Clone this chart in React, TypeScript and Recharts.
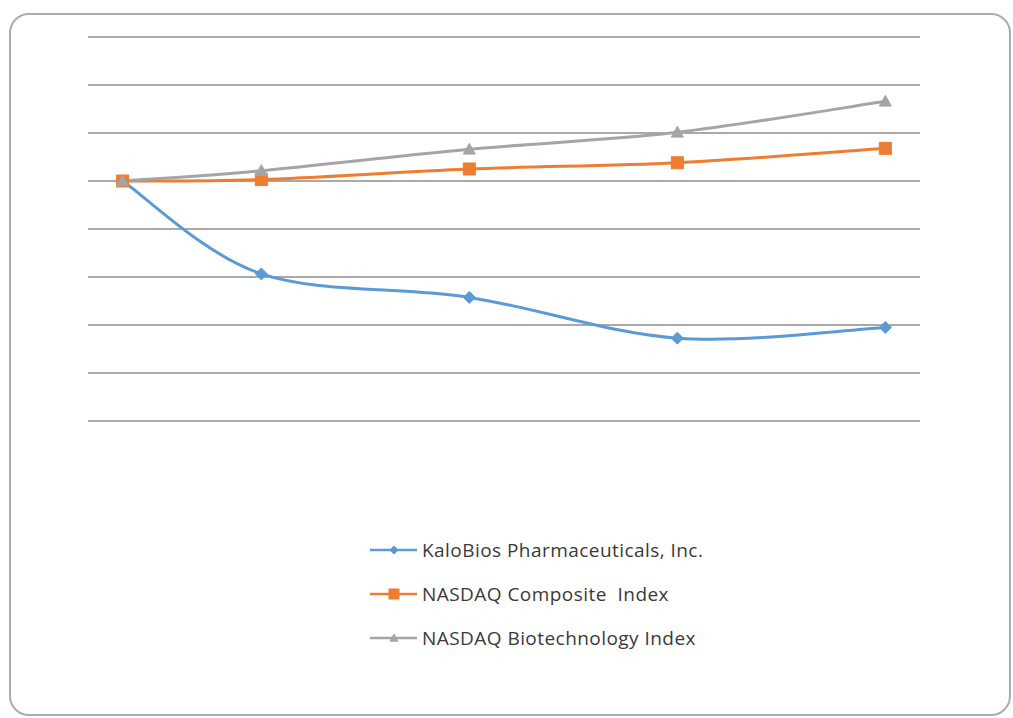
import React from "react";
import { LineChart, Line, XAxis, YAxis, CartesianGrid, Legend } from "recharts";

const dates = ["2013-01-31", "2013-03-31", "2013-06-30", "2013-09-30", "2013-12-31"];
const kalobios = [100, 61.3, 51.5, 34.5, 39.0];
const nasdaqComposite = [100, 100.6, 105.0, 107.6, 113.6];
const nasdaqBiotech = [100, 104.3, 113.2, 120.3, 133.2];
const yTicks = [0, 20, 40, 60, 80, 100, 120, 140, 160];

const seriesNames = [
  "KaloBios Pharmaceuticals, Inc.",
  "NASDAQ Composite  Index",
  "NASDAQ Biotechnology Index",
];
const seriesColors = ["#5B9BD5", "#ED7D31", "#A5A5A5"];
const seriesKeys = ["kalo", "comp", "bio"];
const seriesMarkers = ["diamond", "square", "triangle"];

const monthIndex = (d: string) => {
  const [y, m] = d.split("-").map(Number);
  const [y0, m0] = dates[0].split("-").map(Number);
  return (y - y0) * 12 + (m - m0);
};

const data = dates.map((d, i) => ({
  x: monthIndex(d),
  kalo: kalobios[i],
  comp: nasdaqComposite[i],
  bio: nasdaqBiotech[i],
}));

// Excel-like smoothing (Catmull-Rom style bezier)
const smoothCurve: any = (context: any) => {
  let pts: number[][] = [];
  return {
    areaStart() {},
    areaEnd() {},
    lineStart() {
      pts = [];
    },
    point(x: number, y: number) {
      pts.push([+x, +y]);
    },
    lineEnd() {
      const n = pts.length;
      if (!n) return;
      context.moveTo(pts[0][0], pts[0][1]);
      for (let i = 0; i < n - 1; i++) {
        const p0 = pts[Math.max(i - 1, 0)];
        const p1 = pts[i];
        const p2 = pts[i + 1];
        const p3 = pts[Math.min(i + 2, n - 1)];
        const c1x = p1[0] + (p2[0] - p0[0]) / 6;
        const c1y = p1[1] + (p2[1] - p0[1]) / 6;
        const c2x = p2[0] - (p3[0] - p1[0]) / 6;
        const c2y = p2[1] - (p3[1] - p1[1]) / 6;
        context.bezierCurveTo(c1x, c1y, c2x, c2y, p2[0], p2[1]);
      }
    },
  };
};

const Marker = ({ kind, cx, cy, color, s = 6 }: any) => {
  if (kind === "diamond") {
    return (
      <path
        d={`M${cx},${cy - s} L${cx + s},${cy} L${cx},${cy + s} L${cx - s},${cy} Z`}
        fill={color}
        stroke={color}
      />
    );
  }
  if (kind === "square") {
    return <rect x={cx - s} y={cy - s} width={2 * s} height={2 * s} fill={color} stroke={color} />;
  }
  return (
    <path
      d={`M${cx},${cy - s} L${cx + s},${cy + s * 0.8} L${cx - s},${cy + s * 0.8} Z`}
      fill={color}
      stroke={color}
    />
  );
};

const makeDot = (kind: string, color: string) => (props: any) => (
  <Marker key={`${kind}-${props.index}`} kind={kind} cx={props.cx} cy={props.cy} color={color} />
);

const LegendContent = () => (
  <div
    style={{
      fontFamily: "'Open Sans', sans-serif",
      fontSize: 19,
      letterSpacing: 0.45,
      color: "#3a3a3a",
    }}
  >
    {seriesNames.map((name, i) => (
      <div key={name} style={{ display: "flex", alignItems: "center", height: 44 }}>
        <svg width={52} height={20} style={{ display: "block" }}>
          <line x1={0} y1={10} x2={47} y2={10} stroke={seriesColors[i]} strokeWidth={2.5} />
          <Marker kind={seriesMarkers[i]} cx={24} cy={10} color={seriesColors[i]} s={i === 1 ? 5 : 4} />
        </svg>
        <span style={{ whiteSpace: "pre" }}>{name}</span>
      </div>
    ))}
  </div>
);

export default function App() {
  return (
    <div style={{ position: "absolute", left: 0, top: 0, width: 1013, height: 718, background: "#fff" }}>
      <div
        style={{
          position: "absolute",
          left: 9,
          top: 13,
          width: 998,
          height: 699,
          border: "2px solid #acacac",
          borderRadius: 20,
          boxSizing: "content-box",
        }}
      />
      <div style={{ position: "absolute", left: 0, top: 0 }}>
        <LineChart
          width={1013}
          height={718}
          data={data}
          margin={{ top: 37, left: 88, right: 93, bottom: 297 }}
        >
          <CartesianGrid horizontal vertical={false} stroke="#8c8c8c" strokeWidth={1.5} />
          <XAxis dataKey="x" type="number" domain={[-0.5, 11.5]} hide />
          <YAxis type="number" domain={[0, 160]} ticks={yTicks} hide />
          <Legend
            layout="vertical"
            align="center"
            verticalAlign="middle"
            content={<LegendContent />}
            wrapperStyle={{ top: 528, left: 370, width: 440, height: 132 }}
          />
          {seriesKeys.map((k, i) => (
            <Line
              key={k}
              dataKey={k}
              name={seriesNames[i]}
              type={smoothCurve}
              stroke={seriesColors[i]}
              strokeWidth={3}
              dot={makeDot(seriesMarkers[i], seriesColors[i])}
              activeDot={false}
              isAnimationActive={false}
            />
          ))}
        </LineChart>
      </div>
    </div>
  );
}
